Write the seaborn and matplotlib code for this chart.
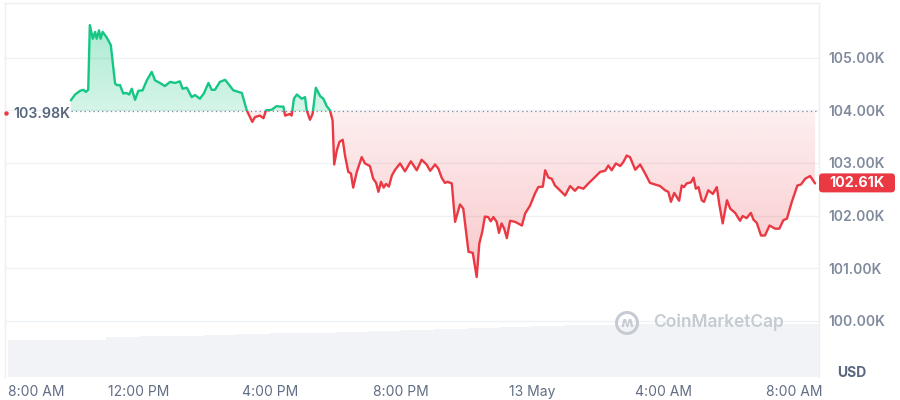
import numpy as np
import pandas as pd
import matplotlib
matplotlib.use("Agg")
import matplotlib.pyplot as plt
import seaborn as sns
from matplotlib.patches import Rectangle, Circle, FancyBboxPatch
from matplotlib.path import Path
from matplotlib.colors import to_rgb

# ---------------- data (hours since 8:00 AM, price in thousands USD) ----------------
hours = [1.92, 2.05, 2.20, 2.30, 2.38, 2.45, 2.50, 2.59, 2.66, 2.71, 2.78, 2.83, 2.89,
         3.01, 3.14, 3.27, 3.32, 3.42, 3.52, 3.62, 3.70, 3.78, 3.88, 3.98, 4.11, 4.24,
         4.39, 4.49, 4.64, 4.79, 4.95, 5.10, 5.25, 5.33, 5.46, 5.61, 5.71, 5.86, 5.98,
         6.12, 6.22, 6.32, 6.47, 6.63, 6.78, 6.88, 7.14, 7.29, 7.46, 7.54, 7.69, 7.80,
         7.88, 8.05, 8.20, 8.31, 8.41, 8.46, 8.61, 8.66, 8.73, 8.82, 8.97, 9.07, 9.12,
         9.22, 9.30, 9.40, 9.53, 9.63, 9.73, 9.83, 9.91, 9.96, 10.04, 10.12, 10.22,
         10.29, 10.39, 10.47, 10.54, 10.65, 10.80, 10.90, 11.05, 11.15, 11.24, 11.31,
         11.39, 11.47, 11.54, 11.63, 11.72, 11.82, 11.97, 12.12, 12.30, 12.48, 12.63,
         12.78, 12.89, 13.04, 13.14, 13.24, 13.34, 13.42, 13.55, 13.65, 13.80, 13.90,
         14.06, 14.19, 14.31, 14.39, 14.48, 14.56, 14.66, 14.74, 14.82, 14.92, 14.99,
         15.07, 15.15, 15.23, 15.33, 15.48, 15.69, 15.79, 15.94, 16.09, 16.19, 16.33,
         16.40, 16.50, 16.60, 16.70, 16.85, 17.01, 17.16, 17.31, 17.41, 17.57, 17.72,
         17.87, 18.08, 18.23, 18.33, 18.43, 18.56, 18.69, 18.79, 18.89, 18.99, 19.15,
         19.30, 19.45, 19.60, 19.76, 19.91, 20.06, 20.16, 20.24, 20.34, 20.49, 20.57,
         20.64, 20.72, 20.85, 20.93, 21.00, 21.08, 21.18, 21.25, 21.38, 21.52, 21.64,
         21.72, 21.82, 21.95, 22.05, 22.20, 22.35, 22.43, 22.55, 22.68, 22.76, 22.86,
         22.99, 23.11, 23.25, 23.42, 23.55, 23.67, 23.78, 23.93, 24.10, 24.21, 24.34,
         24.49, 24.64]
prices = [104.19, 104.30, 104.37, 104.39, 104.35, 104.39, 105.62, 105.36, 105.49, 105.36,
          105.52, 105.36, 105.49, 105.39, 105.24, 104.51, 104.48, 104.48, 104.32, 104.33,
          104.30, 104.41, 104.20, 104.37, 104.38, 104.57, 104.73, 104.57, 104.52, 104.46,
          104.54, 104.52, 104.55, 104.41, 104.43, 104.25, 104.29, 104.22, 104.32, 104.52,
          104.39, 104.39, 104.54, 104.58, 104.46, 104.38, 104.33, 104.00, 103.78, 103.87,
          103.90, 103.85, 104.00, 104.01, 104.08, 104.07, 104.07, 103.90, 103.93, 103.90,
          104.22, 104.30, 104.22, 104.25, 104.00, 103.82, 103.93, 104.43, 104.27, 104.22,
          104.08, 104.00, 103.81, 102.97, 103.24, 103.40, 103.44, 103.14, 102.83, 102.80,
          102.53, 102.83, 103.11, 102.99, 102.94, 102.70, 102.62, 102.45, 102.64, 102.53,
          102.60, 102.55, 102.76, 102.87, 102.99, 102.84, 103.03, 102.86, 103.06, 102.97,
          102.85, 102.97, 102.89, 102.72, 102.62, 102.64, 102.61, 101.88, 102.21, 102.13,
          101.31, 101.29, 100.83, 101.47, 101.69, 101.98, 101.97, 101.89, 101.97, 101.88,
          101.67, 101.85, 101.75, 101.57, 101.90, 101.88, 101.81, 102.04, 102.19, 102.42,
          102.54, 102.55, 102.86, 102.72, 102.70, 102.57, 102.48, 102.38, 102.56, 102.47,
          102.54, 102.51, 102.61, 102.70, 102.83, 102.85, 102.95, 102.86, 102.99, 102.94,
          103.02, 103.14, 103.11, 102.87, 102.97, 102.80, 102.62, 102.59, 102.56, 102.48,
          102.45, 102.26, 102.43, 102.28, 102.57, 102.54, 102.61, 102.63, 102.72, 102.51,
          102.54, 102.29, 102.26, 102.48, 102.41, 102.54, 102.20, 101.85, 102.29, 102.13,
          102.05, 101.90, 101.99, 101.95, 102.05, 101.92, 101.86, 101.62, 101.62, 101.81,
          101.75, 101.75, 101.91, 101.94, 102.26, 102.57, 102.59, 102.70, 102.75, 102.61]
baseline_price = 103.98
last_price = 102.61

volume_hours = list(range(25))
volume = [37, 37, 37.5, 40, 41, 41.5, 42, 43, 44, 44.5, 45, 46, 47, 48, 49, 50, 51,
          52, 52.5, 53, 53, 53, 53, 53, 53]

y_ticks = [100, 101, 102, 103, 104, 105]
x_ticks = [0, 4, 8, 12, 16, 20, 24]
x_tick_labels = ["8:00 AM", "12:00 PM", "4:00 PM", "8:00 PM", "13 May", "4:00 AM", "8:00 AM"]

# ---------------- style ----------------
GREEN = "#16c784"
RED = "#ea3943"
GRID = "#eff2f5"
LABEL = "#58667e"
TICK = "#808a9d"

sns.set_theme(style="white")
plt.rcParams['font.family'] = ['Inter', 'DejaVu Sans']

fig = plt.figure(figsize=(9, 4), dpi=100)
ax = fig.add_axes([5 / 900, 23 / 400, 814 / 900, 374 / 400])
xmin, xmax = -0.09, 24.76
ymin, ymax = 98.93, 106.04

# volume (behind)
axv = ax.twinx()
axv.set_zorder(0)
ax.set_zorder(1)
ax.patch.set_visible(False)
axv.bar(volume_hours, volume, width=1.0, align='edge', color="#f1f3f6", edgecolor="none")
axv.set_ylim(0, 374)
axv.set_yticks([])
for s in axv.spines.values():
    s.set_visible(False)

ax.set_xlim(xmin, xmax)
ax.set_ylim(ymin, ymax)

# grid
for v in y_ticks:
    ax.axhline(v, color=GRID, lw=1.0, zorder=0)

df = pd.DataFrame({"hour": hours, "price": prices})
x = np.array(hours)
y = np.array(prices)

# gradient fills
def gradient_fill(lower, upper, color, alpha_low, alpha_high, y0, y1):
    poly = ax.fill_between(x, lower, upper, color="none", lw=0)
    path = Path.make_compound_path(*poly.get_paths())
    n = 256
    alphas = np.linspace(alpha_high, alpha_low, n)  # top row first
    rgb = to_rgb(color)
    img = np.zeros((n, 1, 4))
    img[:, 0, :3] = rgb
    img[:, 0, 3] = alphas
    im = ax.imshow(img, extent=[xmin, xmax, y0, y1], aspect='auto', origin='upper',
                   zorder=1, interpolation='bilinear')
    im.set_clip_path(path, transform=ax.transData)

gradient_fill(np.full_like(y, baseline_price), np.maximum(y, baseline_price), GREEN,
              0.18, 0.36, baseline_price, max(prices))
gradient_fill(np.minimum(y, baseline_price), np.full_like(y, baseline_price), RED,
              0.28, 0.08, min(prices), baseline_price)
ax.set_xlim(xmin, xmax)
ax.set_ylim(ymin, ymax)

# lines (green above baseline, red below)
sns.lineplot(data=df, x="hour", y="price", ax=ax, color=GREEN, lw=1.7, zorder=3)
sns.lineplot(data=df, x="hour", y="price", ax=ax, color=RED, lw=1.7, zorder=3)
lines = ax.get_lines()
clip_up = Rectangle((xmin, baseline_price), xmax - xmin, ymax - baseline_price,
                    transform=ax.transData, facecolor="none")
clip_dn = Rectangle((xmin, ymin), xmax - xmin, baseline_price - ymin,
                    transform=ax.transData, facecolor="none")
lines[-2].set_clip_path(clip_up)
lines[-1].set_clip_path(clip_dn)

# baseline dotted
ax.hlines(baseline_price, hours[0], xmax, colors="#7d879a", linestyles=(0, (1, 2.5)),
          lw=0.9, zorder=2)
ax.text(hours[0] - 0.02, baseline_price - 0.05, "103.98K", ha="right", va="center",
        fontsize=10.2, color=LABEL, fontweight="semibold", zorder=4)
ax.plot([xmin + 0.02], [baseline_price - 0.04], marker="o", ms=2.2, color=RED,
        clip_on=False, zorder=4)

# axes/ticks
ax.set_xticks(x_ticks)
ax.set_xticklabels(x_tick_labels)
ax.tick_params(axis="x", length=0, pad=14.0, labelsize=10, labelcolor="#616e85")
for t in ax.get_xticklabels():
    t.set_va("baseline")
ax.get_xticklabels()[0].set_ha("left")
ax.yaxis.tick_right()
ax.set_yticks(y_ticks)
ax.set_yticklabels([f"{v:.2f}K" for v in y_ticks])
ax.tick_params(axis="y", length=0, pad=7, labelsize=10, labelcolor=TICK)
for t in ax.get_yticklabels():
    t.set_fontweight("semibold")
ax.set_xlabel("")
ax.set_ylabel("")
for side in ["top", "left", "right"]:
    ax.spines[side].set_visible(True)
    ax.spines[side].set_color("#eceff3")
    ax.spines[side].set_linewidth(1.0)
ax.spines["bottom"].set_visible(False)

# last price tag (box 76 x 19 px)
px_per_unit = 374 / (ymax - ymin)
box_w = 76 / 814
box_h = 19 / px_per_unit
tag = FancyBboxPatch((1.0, last_price - box_h / 2 + 0.01), box_w, box_h,
                     boxstyle="round,pad=0,rounding_size=0.0045",
                     mutation_aspect=(1 / px_per_unit) / (1 / 814),
                     transform=ax.get_yaxis_transform(), fc=RED, ec="none",
                     clip_on=False, zorder=5)
ax.add_patch(tag)
ax.text(1.0 + box_w / 2, last_price + 0.01, "102.61K", transform=ax.get_yaxis_transform(),
        ha="center", va="center", fontsize=10.3, color="white", fontweight="bold",
        clip_on=False, zorder=6)

# USD label
fig.text(852 / 900, 1 - 373 / 400, "USD", ha="center", va="center", fontsize=10,
         fontweight="bold", color=LABEL)

# watermark
wm = "#c6cbd3"
circ = Circle((627, 400 - 323), 10.5, transform=None, fill=False, ec=wm, lw=2.2, zorder=4)
fig.patches.append(circ)
fig.text(627 / 900, 1 - 323 / 400, "\u028D", ha="center", va="center", fontsize=10,
         color=wm, fontweight="bold", family=["DejaVu Sans"])
fig.text(653 / 900, 1 - 322 / 400, "CoinMarketCap", ha="left", va="center",
         fontsize=12.5, color=wm, fontweight="semibold")

fig.savefig("out.png", dpi=100, facecolor="white")
